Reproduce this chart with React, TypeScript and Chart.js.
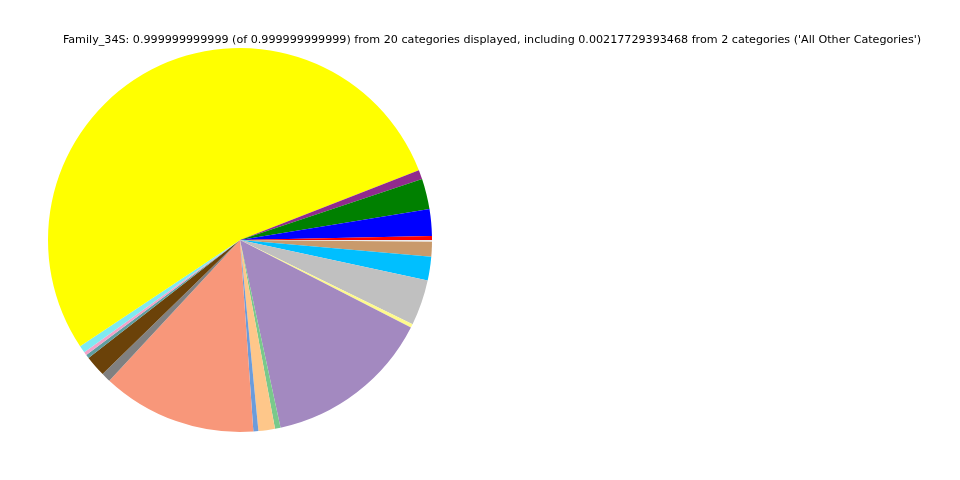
import React, { useEffect, useRef } from "react";
import { Chart, registerables } from "chart.js";

Chart.register(...registerables);

const TITLE =
  "Family_34S: 0.999999999999 (of 0.999999999999) from 20 categories displayed, including 0.00217729393468 from 2 categories ('All Other Categories')";

// Slices in the original (counter-clockwise from 3 o'clock) order
const categories = [
  "Category 1", "Category 2", "Category 3", "Category 4", "Category 5",
  "Category 6", "Category 7", "Category 8", "Category 9", "Category 10",
  "Category 11", "Category 12", "Category 13", "Category 14", "Category 15",
  "Category 16", "Category 17", "Category 18", "Category 19", "All Other Categories",
];

const values = [
  0.00333, 0.0225, 0.02556, 0.00778, 0.53417,
  0.00611, 0.00278, 0.00306, 0.01778, 0.00778,
  0.13025, 0.0042, 0.01389, 0.0047, 0.14085,
  0.00306, 0.03833, 0.02, 0.0125, 0.00139,
];

const colors = [
  "#ff0000", "#0000ff", "#008000", "#912a8d", "#ffff00",
  "#7fe9f1", "#f2a3c9", "#5f9ea0", "#6b4209", "#808080",
  "#f8977a", "#6b9cdb", "#fec78a", "#79c98b", "#a389c0",
  "#fffa8c", "#c0c0c0", "#00bfff", "#c99a6b", "#ececec",
];

const titlePlugin = {
  id: "fixedTitle",
  afterDraw(chart: any) {
    const ctx = chart.ctx;
    ctx.save();
    ctx.font = "11.15px 'DejaVu Sans', sans-serif";
    ctx.fillStyle = "#000";
    ctx.textAlign = "center";
    ctx.textBaseline = "middle";
    ctx.fillText(TITLE, 492, 40);
    ctx.restore();
  },
};

export default function App() {
  const ref = useRef<HTMLCanvasElement>(null);
  useEffect(() => {
    if (!ref.current) return;
    const chart = new Chart(ref.current, {
      type: "pie",
      data: {
        labels: [...categories].reverse(),
        datasets: [
          {
            data: [...values].reverse(),
            backgroundColor: [...colors].reverse(),
            borderWidth: 0,
          },
        ],
      },
      options: {
        animation: false,
        responsive: false,
        rotation: 90,
        layout: { padding: { left: 48, right: 528, top: 48, bottom: 48 } },
        plugins: {
          legend: { display: false },
          title: { display: false },
          tooltip: { enabled: false },
        },
      },
      plugins: [titlePlugin],
    });
    return () => chart.destroy();
  }, []);
  return (
    <div style={{ position: "fixed", left: 0, top: 0, width: 960, height: 480, background: "#fff" }}>
      <canvas ref={ref} width={960} height={480} style={{ width: 960, height: 480 }} />
    </div>
  );
}
